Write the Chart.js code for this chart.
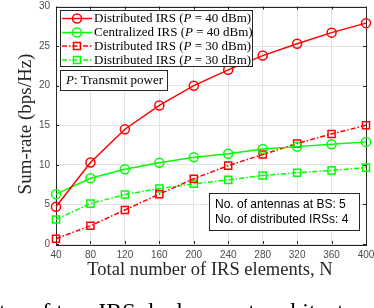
<!DOCTYPE html>
<html>
<head>
<meta charset="utf-8">
<script src="https://cdn.jsdelivr.net/npm/chart.js@4.4.1/dist/chart.umd.min.js"></script>
<style>
  html, body { margin: 0; padding: 0; background: #ffffff; }
  #wrap { width: 374px; height: 308px; position: relative; }
</style>
</head>
<body>
<div id="wrap"><canvas id="c" width="374" height="308"></canvas></div>
<script>
// ---- data ----
const elementCounts = [40, 80, 120, 160, 200, 240, 280, 320, 360, 400];
const distributed40 = [4.7, 10.3, 14.5, 17.5, 20.0, 22.0, 23.8, 25.3, 26.7, 27.9];
const centralized40 = [6.3, 8.3, 9.45, 10.25, 10.95, 11.4, 12.0, 12.3, 12.6, 12.9];
const distributed30 = [0.67, 2.3, 4.3, 6.3, 8.25, 9.9, 11.3, 12.7, 13.9, 15.0];
const centralized30 = [3.1, 5.1, 6.25, 7.0, 7.6, 8.1, 8.65, 9.0, 9.3, 9.65];
const yTicks = [0, 5, 10, 15, 20, 25, 30];
const xTicks = [40, 80, 120, 160, 200, 240, 280, 320, 360, 400];
const legendNames = [
  ["Distributed IRS (", "P", " = 40 dBm)"],
  ["Centralized IRS (", "P", " = 40 dBm)"],
  ["Distributed IRS (", "P", " = 30 dBm)"],
  ["Distributed IRS (", "P", " = 30 dBm)"]
];
const yTitle = "Sum-rate (bps/Hz)";
const xTitle = "Total number of IRS elements, N";
const noteLines = ["No. of antennas at BS: 5", "No. of distributed IRSs: 4"];
const captionText = "ter of two IRS deployment architectures";

const RED = "#ff0000", GREEN = "#00ff00";
const DASHDOT = [5, 2, 1.5, 2];
const SERIF = "'Liberation Serif', 'DejaVu Serif', serif";
const SANS = "'Liberation Sans', Arial, sans-serif";

function pts(arr) { return elementCounts.map((x, i) => ({ x: x, y: arr[i] })); }

const styles = [
  { color: RED, dash: [], point: "circle", r: 4.5 },
  { color: GREEN, dash: [], point: "circle", r: 4.5 },
  { color: RED, dash: DASHDOT, point: "rect", r: 5 },
  { color: GREEN, dash: DASHDOT, point: "rect", r: 5 }
];
const seriesData = [distributed40, centralized40, distributed30, centralized30];

const datasets = seriesData.map((arr, i) => ({
  label: legendNames[i].join(""),
  data: pts(arr),
  borderColor: styles[i].color,
  backgroundColor: "rgba(0,0,0,0)",
  borderWidth: 1.5,
  borderDash: styles[i].dash,
  pointStyle: styles[i].point,
  pointRadius: styles[i].r,
  pointHoverRadius: styles[i].r,
  pointBorderWidth: 1.5,
  pointBorderColor: styles[i].color,
  pointBackgroundColor: "rgba(0,0,0,0)",
  tension: 0,
  clip: false
}));

function drawMixed(ctx, x, y, parts, size) {
  let cx = x;
  parts.forEach((p, k) => {
    ctx.font = (k === 1 ? "italic " : "") + size + "px " + SERIF;
    ctx.fillText(p, cx, y);
    cx += ctx.measureText(p).width;
  });
  return cx;
}

const decor = {
  id: "decor",
  beforeDatasetsDraw(chart) {
    const { ctx, chartArea: a } = chart;
    const xs = chart.scales.x, ys = chart.scales.y;
    ctx.save();
    ctx.strokeStyle = "#262626";
    ctx.lineWidth = 1;
    ctx.beginPath();
    xTicks.forEach(v => {
      const px = Math.round(xs.getPixelForValue(v)) + 0.5;
      ctx.moveTo(px, a.bottom); ctx.lineTo(px, a.bottom - 3);
      ctx.moveTo(px, a.top); ctx.lineTo(px, a.top + 3);
    });
    yTicks.forEach(v => {
      const py = Math.round(ys.getPixelForValue(v)) + 0.5;
      ctx.moveTo(a.left, py); ctx.lineTo(a.left + 3, py);
      ctx.moveTo(a.right, py); ctx.lineTo(a.right - 3, py);
    });
    ctx.stroke();
    ctx.strokeRect(Math.round(a.left) + 0.5, Math.round(a.top) + 0.5,
                   Math.round(a.right - a.left), Math.round(a.bottom - a.top));
    ctx.restore();
  },
  afterDraw(chart) {
    const { ctx, chartArea: a } = chart;
    ctx.save();
    // axis titles
    ctx.fillStyle = "#262626";
    ctx.textAlign = "center";
    ctx.textBaseline = "middle";
    ctx.font = "18.5px " + SERIF;
    ctx.fillText(xTitle, 210, 270);
    ctx.save();
    ctx.translate(26, 124);
    ctx.rotate(-Math.PI / 2);
    ctx.font = "19px " + SERIF;
    ctx.fillText(yTitle, 0, 0);
    ctx.restore();

    // legend box
    ctx.textAlign = "left";
    ctx.textBaseline = "middle";
    const lx = 60.5, ly = 10.5, lw = 192, lh = 56;
    ctx.fillStyle = "#ffffff";
    ctx.fillRect(lx, ly, lw, lh);
    ctx.strokeStyle = "#262626";
    ctx.lineWidth = 1;
    ctx.setLineDash([]);
    ctx.strokeRect(lx, ly, lw, lh);
    const rows = [18.5, 32.5, 46, 60];
    legendNames.forEach((parts, i) => {
      const st = styles[i];
      const y = rows[i];
      ctx.strokeStyle = st.color;
      ctx.lineWidth = 1.5;
      ctx.setLineDash(st.dash);
      ctx.beginPath();
      ctx.moveTo(62, y); ctx.lineTo(92, y);
      ctx.stroke();
      ctx.setLineDash([]);
      ctx.beginPath();
      if (st.point === "circle") {
        ctx.arc(77, y, 4.5, 0, Math.PI * 2);
      } else {
        ctx.rect(77 - 3.5, y - 3.5, 7, 7);
      }
      ctx.stroke();
      ctx.fillStyle = "#000000";
      drawMixed(ctx, 94, y + 0.5, parts, 13);
    });

    // "P: Transmit power" box
    ctx.fillStyle = "#ffffff";
    ctx.fillRect(60.5, 70.5, 107, 20);
    ctx.strokeStyle = "#262626";
    ctx.lineWidth = 1;
    ctx.strokeRect(60.5, 70.5, 107, 20);
    ctx.fillStyle = "#000000";
    drawMixed(ctx, 66, 81, ["", "P", ": Transmit power"], 13);

    // note box
    ctx.fillStyle = "#ffffff";
    ctx.fillRect(209.5, 193.5, 150, 37);
    ctx.strokeStyle = "#262626";
    ctx.strokeRect(209.5, 193.5, 150, 37);
    ctx.fillStyle = "#000000";
    ctx.font = "12px " + SANS;
    ctx.fillText(noteLines[0], 215, 204.5);
    ctx.fillText(noteLines[1], 215, 220);

    // cut-off caption
    ctx.textBaseline = "alphabetic";
    ctx.font = "24px " + SERIF;
    ctx.fillStyle = "#000000";
    ctx.fillText(captionText, -1, 319);
    ctx.restore();
  }
};

new Chart(document.getElementById("c"), {
  type: "line",
  data: { datasets: datasets },
  options: {
    responsive: false,
    animation: false,
    events: [],
    layout: { padding: { left: 0, right: 8, top: 4, bottom: 0 } },
    plugins: { legend: { display: false }, tooltip: { enabled: false } },
    scales: {
      x: {
        type: "linear",
        min: 40, max: 400,
        afterBuildTicks(s) { s.ticks = xTicks.map(v => ({ value: v })); },
        afterFit(s) { s.height = 64; s.paddingLeft = 0; s.paddingRight = 0; },
        grid: { color: "#e3e3e3", lineWidth: 1, drawTicks: false },
        border: { display: false },
        ticks: { color: "#4d4d4d", font: { family: SANS, size: 10 }, padding: 5, maxRotation: 0, autoSkip: false }
      },
      y: {
        type: "linear",
        min: 0, max: 30,
        afterBuildTicks(s) { s.ticks = yTicks.map(v => ({ value: v })); },
        afterFit(s) { s.width = 56; s.paddingTop = 0; s.paddingBottom = 0; },
        grid: { color: "#e3e3e3", lineWidth: 1, drawTicks: false },
        border: { display: false },
        ticks: { color: "#4d4d4d", font: { family: SANS, size: 10 }, padding: 6 }
      }
    }
  },
  plugins: [decor]
});
</script>
</body>
</html>
